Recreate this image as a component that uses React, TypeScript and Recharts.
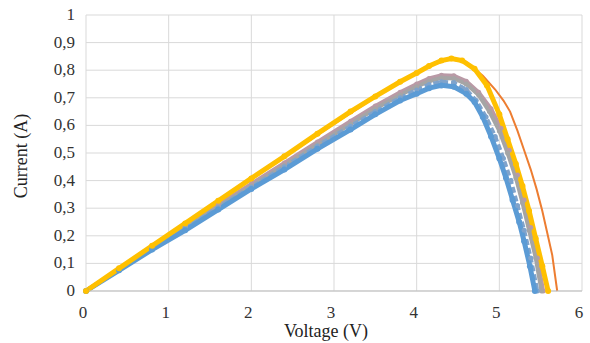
import { LineChart, Line, XAxis, YAxis, CartesianGrid, Label } from 'recharts';

if (typeof document !== 'undefined') document.body.style.margin = '0';

// measured I-V curves, [voltage (V), current (A)]
const blueCurve = [
  [0, 0], [0.4, 0.075], [0.8, 0.15], [1.2, 0.22], [1.6, 0.295], [2.0, 0.37], [2.4, 0.44],
  [2.8, 0.515], [3.2, 0.585], [3.5, 0.64], [3.8, 0.69], [4.0, 0.715], [4.15, 0.735],
  [4.3, 0.745], [4.45, 0.74], [4.6, 0.715], [4.7, 0.685], [4.8, 0.63], [4.9, 0.56],
  [5.0, 0.48], [5.08, 0.41], [5.16, 0.33], [5.24, 0.25], [5.3, 0.18], [5.37, 0.09], [5.43, 0],
];
const steelCurve = [
  [0, 0], [0.4, 0.077], [0.8, 0.153], [1.2, 0.227], [1.6, 0.302], [2.0, 0.376], [2.4, 0.45],
  [2.8, 0.525], [3.2, 0.597], [3.5, 0.65], [3.8, 0.7], [4.0, 0.728], [4.15, 0.748],
  [4.3, 0.758], [4.45, 0.755], [4.6, 0.73], [4.72, 0.69], [4.84, 0.63], [4.95, 0.56],
  [5.05, 0.48], [5.14, 0.4], [5.22, 0.31], [5.3, 0.22], [5.38, 0.12], [5.46, 0],
];
const grayCurve = [
  [0, 0], [0.4, 0.078], [0.8, 0.155], [1.2, 0.23], [1.6, 0.305], [2.0, 0.38], [2.4, 0.455],
  [2.8, 0.53], [3.2, 0.605], [3.5, 0.66], [3.8, 0.71], [4.0, 0.74], [4.15, 0.76],
  [4.3, 0.772], [4.45, 0.77], [4.6, 0.75], [4.75, 0.71], [4.88, 0.65], [5.0, 0.58],
  [5.1, 0.5], [5.2, 0.41], [5.28, 0.32], [5.36, 0.22], [5.44, 0.12], [5.51, 0],
];
const mauveCurve = [
  [0, 0], [0.4, 0.079], [0.8, 0.158], [1.2, 0.235], [1.6, 0.312], [2.0, 0.388], [2.4, 0.464],
  [2.8, 0.54], [3.2, 0.615], [3.5, 0.67], [3.8, 0.72], [4.0, 0.75], [4.15, 0.77],
  [4.3, 0.782], [4.45, 0.78], [4.6, 0.76], [4.75, 0.72], [4.9, 0.66], [5.02, 0.59],
  [5.12, 0.51], [5.22, 0.42], [5.3, 0.33], [5.38, 0.23], [5.46, 0.12], [5.53, 0],
];
const yellowCurve = [
  [0, 0], [0.4, 0.082], [0.8, 0.164], [1.2, 0.245], [1.6, 0.327], [2.0, 0.408], [2.4, 0.488],
  [2.8, 0.57], [3.2, 0.65], [3.5, 0.705], [3.8, 0.758], [4.0, 0.79], [4.15, 0.815],
  [4.3, 0.835], [4.42, 0.842], [4.55, 0.835], [4.7, 0.805], [4.85, 0.745], [5.0, 0.64],
  [5.1, 0.55], [5.2, 0.46], [5.28, 0.38], [5.36, 0.29], [5.44, 0.19], [5.52, 0.09], [5.59, 0],
];
const orangeCurve = [
  [0, 0], [0.5, 0.1], [1.0, 0.202], [1.5, 0.304], [2.0, 0.405], [2.5, 0.505], [3.0, 0.605],
  [3.5, 0.702], [4.0, 0.79], [4.2, 0.82], [4.4, 0.84], [4.6, 0.83], [4.8, 0.78],
  [4.95, 0.73], [5.05, 0.69], [5.13, 0.65], [5.22, 0.58], [5.3, 0.51], [5.38, 0.44],
  [5.45, 0.37], [5.52, 0.29], [5.58, 0.21], [5.64, 0.13], [5.7, 0],
];

const xTicks = [0, 1, 2, 3, 4, 5, 6];
const yTicks = [0, 0.1, 0.2, 0.3, 0.4, 0.5, 0.6, 0.7, 0.8, 0.9, 1];

const toPoints = (c: number[][]) => c.map(([v, i]) => ({ v, i }));

const font = '"Liberation Serif", "Times New Roman", serif';

const XTick = (props: any) => {
  const { x, y, payload } = props;
  return (
    <text x={x - 3} y={y + 15} textAnchor="middle" fontSize={17} fontFamily={font} fill="#333">
      {payload.value}
    </text>
  );
};

const YTick = (props: any) => {
  const { x, y, payload } = props;
  return (
    <text x={x} y={y + 5} textAnchor="end" fontSize={17} fontFamily={font} fill="#333">
      {String(payload.value).replace('.', ',')}
    </text>
  );
};

export default function App() {
  return (
    <div style={{ width: 590, height: 343, background: '#fff', fontFamily: font }}>
      <LineChart width={590} height={343} margin={{ top: 15, right: 8, bottom: 0, left: 0 }}>
        <CartesianGrid stroke="#d9d9d9" />
        <XAxis
          type="number"
          dataKey="v"
          domain={[0, 6]}
          ticks={xTicks}
          height={52}
          tickLine={false}
          axisLine={{ stroke: '#bfbfbf' }}
          tick={XTick}
          tickMargin={6}
        >
          <Label
            content={() => (
              <text x={326} y={337} textAnchor="middle" fontSize={18} fontFamily={font} fill="#222">
                Voltage (V)
              </text>
            )}
          />
        </XAxis>
        <YAxis
          type="number"
          dataKey="i"
          domain={[0, 1]}
          ticks={yTicks}
          width={86}
          tickLine={false}
          axisLine={false}
          tick={YTick}
          tickMargin={5}
        >
          <Label
            content={() => (
              <text x={27} y={156} transform="rotate(-90 27 156)" textAnchor="middle" fontSize={18} fontFamily={font} fill="#222">
                Current (A)
              </text>
            )}
          />
        </YAxis>
        <Line data={toPoints(orangeCurve)} dataKey="i" stroke="#ED7D31" strokeWidth={2} dot={false} isAnimationActive={false} />
        <Line data={toPoints(mauveCurve)} dataKey="i" stroke="#b99aa6" strokeWidth={4} dot={{ r: 2.5, fill: '#b99aa6', stroke: 'none' }} isAnimationActive={false} />
        <Line data={toPoints(grayCurve)} dataKey="i" stroke="#A5A5A5" strokeWidth={4} dot={{ r: 2.5, fill: '#A5A5A5', stroke: 'none' }} isAnimationActive={false} />
        <Line data={toPoints(steelCurve)} dataKey="i" stroke="#7fa3cc" strokeWidth={4} strokeDasharray="6 3" dot={{ r: 2.5, fill: '#7fa3cc', stroke: 'none' }} isAnimationActive={false} />
        <Line data={toPoints(blueCurve)} dataKey="i" stroke="#5B9BD5" strokeWidth={5} dot={{ r: 3, fill: '#5B9BD5', stroke: 'none' }} isAnimationActive={false} />
        <Line data={toPoints(yellowCurve)} dataKey="i" stroke="#FFC000" strokeWidth={5} dot={{ r: 3, fill: '#FFC000', stroke: 'none' }} isAnimationActive={false} />
      </LineChart>
    </div>
  );
}
